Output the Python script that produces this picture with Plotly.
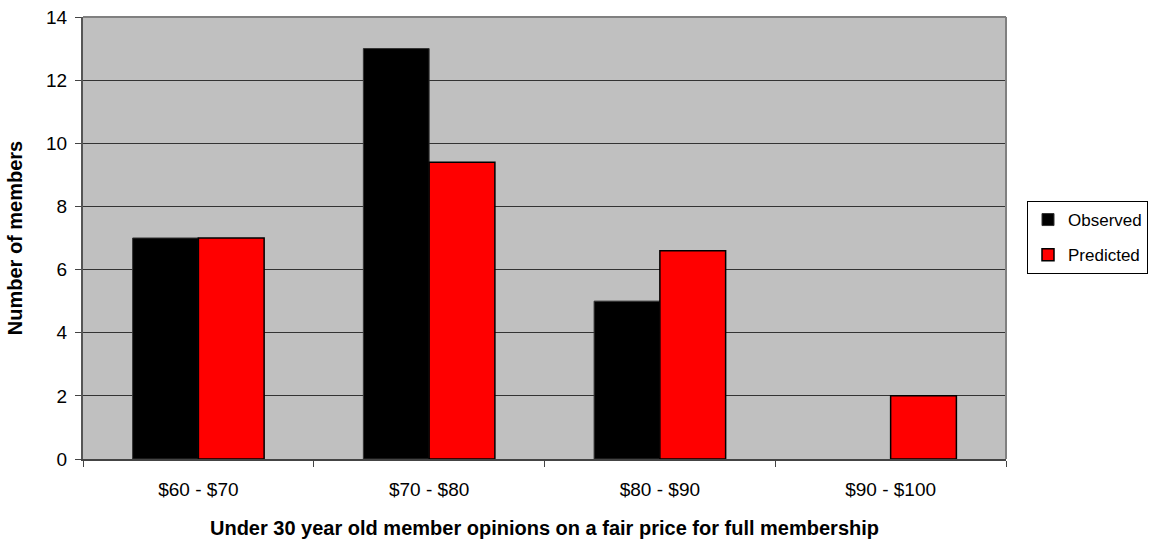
import plotly.graph_objects as go

categories = ["$60 - $70", "$70 - $80", "$80 - $90", "$90 - $100"]
observed = [7, 13, 5, 0]
predicted = [7, 9.4, 6.6, 2]

FONT = "Liberation Sans, Arial, sans-serif"

# no outline on empty bars so a zero value leaves no stray line on the axis
obs_outline = [1 if v > 0 else 0 for v in observed]
pred_outline = [1.5 if v > 0 else 0 for v in predicted]

fig = go.Figure()
fig.add_trace(go.Bar(
    x=categories, y=observed, name="Observed", legendgroup="obs",
    marker=dict(color="#000000", line=dict(color="#333333", width=obs_outline)),
))
fig.add_trace(go.Bar(
    x=categories, y=predicted, name="Predicted", legendgroup="pred",
    marker=dict(color="#FF0000", line=dict(color="#000000", width=pred_outline)),
))

fig.update_layout(
    width=1150, height=541,
    margin=dict(l=83, r=144, t=17, b=82, autoexpand=False),
    paper_bgcolor="white",
    plot_bgcolor="#C0C0C0",
    barmode="group",
    bargap=0.43,
    bargroupgap=0,
    font=dict(family=FONT, size=19, color="black"),
    showlegend=True,
    legend=dict(
        xref="container", yref="container",
        x=1027 / 1150, y=1 - 201 / 541, xanchor="left", yanchor="top",
        bgcolor="white", bordercolor="black", borderwidth=1,
        font=dict(family=FONT, size=17, color="black"),
        itemwidth=30, traceorder="grouped", tracegroupgap=10,
    ),
    xaxis=dict(
        type="category",
        automargin=False,
        tickson="boundaries",
        ticks="outside", ticklen=6, tickcolor="#444444",
        showline=True, linecolor="#444444", linewidth=2,
        showgrid=False,
        tickfont=dict(family=FONT, size=19),
        ticklabelstandoff=12,
        title=dict(
            text="<b>Under 30 year old member opinions on a fair price for full membership</b>",
            font=dict(family=FONT, size=20), standoff=22,
        ),
    ),
    yaxis=dict(
        range=[0, 14], dtick=2,
        automargin=False,
        ticks="outside", ticklen=6, tickcolor="#444444",
        showline=True, linecolor="#555555", linewidth=2,
        showgrid=True, gridcolor="#333333", gridwidth=1,
        zeroline=False,
        tickfont=dict(family=FONT, size=19),
        ticklabelstandoff=4,
        title=dict(text="<b>Number of members</b>", font=dict(family=FONT, size=20), standoff=18),
    ),
)

# Thin gray frame on the top and right of the plotting area
fig.add_shape(type="line", xref="paper", yref="paper", x0=0, x1=1, y0=1, y1=1,
              line=dict(color="#808080", width=2))
fig.add_shape(type="line", xref="paper", yref="paper", x0=1, x1=1, y0=0, y1=1,
              line=dict(color="#808080", width=2))

fig.write_html("out.html")
